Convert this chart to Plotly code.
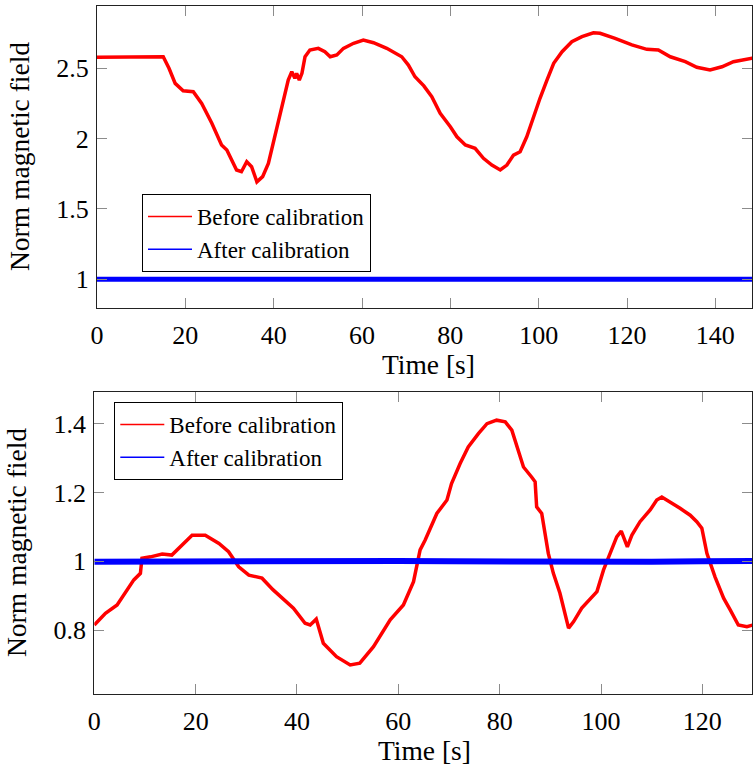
import plotly.graph_objects as go

# ---------------- data ----------------
top_time = [0, 5, 10, 15.0, 16.3, 17.7, 19.5, 21.8, 23.7, 26.0, 28.2, 29.4, 31.6, 32.7, 33.9,
            35.0, 36.2, 37.5, 38.8, 39.9, 41.1, 42.2, 43.3, 44.1, 44.8, 45.2, 45.8, 46.4, 47.1,
            48.2, 50.1, 51.6, 52.8, 54.3, 55.8, 58.1, 60.3, 62.6, 65.6, 69.0, 70.5, 72.0, 74.0,
            75.8, 77.7, 80.0, 81.5, 83.4, 85.6, 87.5, 89.4, 91.3, 92.8, 94.3, 95.8, 97.3, 98.8,
            100.3, 101.9, 103.4, 105.3, 107.5, 109.8, 112.4, 113.9, 117.3, 121.1, 124.5, 127.1,
            129.8, 133.2, 135.8, 138.8, 141.5, 144.1, 148.3, 150]
top_before = [2.578, 2.580, 2.582, 2.582, 2.50, 2.393, 2.340, 2.334, 2.250, 2.109, 1.955, 1.919,
              1.777, 1.765, 1.836, 1.800, 1.693, 1.730, 1.824, 1.967, 2.132, 2.275, 2.417, 2.476,
              2.429, 2.464, 2.417, 2.464, 2.582, 2.630, 2.642, 2.618, 2.582, 2.595, 2.642, 2.678,
              2.701, 2.682, 2.642, 2.582, 2.523, 2.440, 2.375, 2.298, 2.180, 2.085, 2.013, 1.955,
              1.931, 1.860, 1.812, 1.777, 1.812, 1.883, 1.907, 2.013, 2.156, 2.287, 2.417, 2.536,
              2.618, 2.689, 2.725, 2.753, 2.749, 2.713, 2.666, 2.635, 2.630, 2.582, 2.547, 2.507,
              2.488, 2.511, 2.547, 2.571, 2.570]
top_after_time = [0, 10, 20, 30, 40, 50, 60, 70, 80, 90, 100, 110, 120, 130, 140, 150]
top_after = [1.000, 1.001, 1.000, 1.002, 1.001, 1.003, 1.002, 1.003, 1.001, 1.000, 1.001,
             1.000, 1.001, 1.000, 1.001, 1.001]

bot_time = [0, 2.2, 4.5, 6.1, 7.8, 9.1, 9.4, 11.1, 13.4, 15.3, 17.3, 19.3, 21.9, 24.6, 26.5, 28.5,
            30.5, 33.1, 35.3, 37.6, 39.3, 41.6, 42.6, 43.8, 45.2, 47.8, 50.5, 52.4, 55.1, 58.4,
            61.0, 63.0, 64.3, 65.3, 67.6, 69.6, 70.5, 72.2, 73.8, 75.8, 77.5, 79.4, 81.1, 82.4,
            83.7, 84.7, 86.3, 87.0, 87.3, 88.3, 89.6, 90.6, 91.9, 93.6, 94.6, 96.2, 99.2, 100.5,
            101.8, 103.1, 104.0, 105.2, 106.1, 107.7, 109.7, 111.0, 112.0, 113.6, 115.6, 117.6,
            118.9, 119.9, 120.9, 122.5, 124.2, 125.5, 127.1, 128.8, 130]
bot_before = [0.815, 0.849, 0.873, 0.907, 0.946, 0.965, 1.009, 1.013, 1.021, 1.018, 1.047, 1.076,
              1.076, 1.052, 1.028, 0.984, 0.960, 0.951, 0.917, 0.888, 0.864, 0.820, 0.815, 0.832,
              0.762, 0.723, 0.699, 0.704, 0.752, 0.830, 0.873, 0.941, 1.033, 1.062, 1.139, 1.178,
              1.226, 1.284, 1.332, 1.371, 1.400, 1.410, 1.405, 1.381, 1.323, 1.274, 1.245, 1.231,
              1.158, 1.139, 1.023, 0.965, 0.907, 0.806, 0.825, 0.864, 0.912, 0.975, 1.023, 1.071,
              1.088, 1.042, 1.076, 1.115, 1.149, 1.178, 1.187, 1.173, 1.154, 1.134, 1.115, 1.096,
              1.023, 0.955, 0.893, 0.859, 0.815, 0.810, 0.815]
bot_after_time = [0, 10, 20, 30, 40, 50, 60, 70, 80, 90, 100, 110, 120, 130]
bot_after = [0.999, 1.000, 1.000, 0.999, 1.000, 1.001, 1.001, 1.000, 0.999, 1.000, 1.000,
             0.999, 1.000, 1.001]

top_xticks = [0, 20, 40, 60, 80, 100, 120, 140]
top_yticks = [1, 1.5, 2, 2.5]
top_ytext = ["1", "1.5", "2", "2.5"]
bot_xticks = [0, 20, 40, 60, 80, 100, 120]
bot_yticks = [0.8, 1, 1.2, 1.4]
bot_ytext = ["0.8", "1", "1.2", "1.4"]

label_before = "Before calibration"
label_after = "After calibration"
x_title = "Time [s]"
y_title = "Norm magnetic field"

# ---------------- figure ----------------
W, H = 753, 771
FONT = "Liberation Serif, Times New Roman, serif"
RED = "#ff0000"
BLUE = "#0000ff"

fig = go.Figure()
# data traces (legend entries are drawn by thin-line proxy traces below)
fig.add_trace(go.Scatter(x=top_time, y=top_before, mode="lines", name=label_before,
                         line=dict(color=RED, width=3.5), xaxis="x", yaxis="y", showlegend=False))
fig.add_trace(go.Scatter(x=top_after_time, y=top_after, mode="lines", name=label_after,
                         line=dict(color=BLUE, width=5), xaxis="x", yaxis="y", showlegend=False))
fig.add_trace(go.Scatter(x=bot_time, y=bot_before, mode="lines", name=label_before,
                         line=dict(color=RED, width=3.5), xaxis="x2", yaxis="y2", showlegend=False))
fig.add_trace(go.Scatter(x=bot_after_time, y=bot_after, mode="lines", name=label_after,
                         line=dict(color=BLUE, width=6), xaxis="x2", yaxis="y2", showlegend=False))

# legend proxies (no data, thin line samples like the reference)
for name, color, ax, ay, lg in [(label_before, RED, "x", "y", "legend"),
                                (label_after, BLUE, "x", "y", "legend"),
                                (label_before, RED, "x2", "y2", "legend2"),
                                (label_after, BLUE, "x2", "y2", "legend2")]:
    fig.add_trace(go.Scatter(x=[None], y=[None], mode="lines", name=name,
                             line=dict(color=color, width=1.5), xaxis=ax, yaxis=ay,
                             legend=lg, showlegend=True))

axis_common = dict(showline=True, linecolor="#222222", linewidth=1.3, mirror="ticks",
                   ticks="inside", ticklen=10, tickwidth=1.3, tickcolor="#8c8c8c",
                   showgrid=False, zeroline=False, automargin=False,
                   tickfont=dict(family=FONT, size=26, color="black"))

legend_common = dict(xanchor="left", yanchor="top", bordercolor="black", borderwidth=1,
                     bgcolor="white", font=dict(family=FONT, size=23, color="black"),
                     itemwidth=44)

fig.update_layout(
    width=W, height=H,
    margin=dict(l=0, r=0, t=0, b=0),
    paper_bgcolor="white", plot_bgcolor="white",
    showlegend=True,
    xaxis=dict(domain=[97 / W, 752 / W], range=[0, 148.3], tickvals=top_xticks,
               anchor="y", ticklabelstandoff=4, **axis_common),
    yaxis=dict(domain=[1 - 308 / H, 1 - 6 / H], range=[0.796, 2.943], tickvals=top_yticks,
               ticktext=top_ytext, anchor="x", ticklabelstandoff=2, **axis_common),
    xaxis2=dict(domain=[94.3 / W, 752 / W], range=[0, 129.8], tickvals=bot_xticks,
                anchor="y2", ticklabelstandoff=4, **axis_common),
    yaxis2=dict(domain=[1 - 694 / H, 1 - 392.3 / H], range=[0.6145, 1.491], tickvals=bot_yticks,
                ticktext=bot_ytext, anchor="x2", ticklabelstandoff=2, **axis_common),
    legend=dict(x=142 / W, y=1 - 194 / H, **legend_common),
    legend2=dict(x=114.3 / W, y=1 - 402 / H, **legend_common),
    hovermode=False,
)

title_font = dict(family=FONT, size=27.5, color="black")
fig.add_annotation(text=x_title, xref="paper", yref="paper", x=428 / W, y=1 - 364.5 / H,
                   xanchor="center", yanchor="middle", showarrow=False, font=title_font)
fig.add_annotation(text=x_title, xref="paper", yref="paper", x=424 / W, y=1 - 750.5 / H,
                   xanchor="center", yanchor="middle", showarrow=False, font=title_font)
fig.add_annotation(text=y_title, xref="paper", yref="paper", x=20 / W, y=1 - 157 / H,
                   xanchor="center", yanchor="middle", showarrow=False, textangle=-90,
                   font=title_font)
fig.add_annotation(text=y_title, xref="paper", yref="paper", x=16 / W, y=1 - 543 / H,
                   xanchor="center", yanchor="middle", showarrow=False, textangle=-90,
                   font=title_font)

fig.write_html("out.html")
